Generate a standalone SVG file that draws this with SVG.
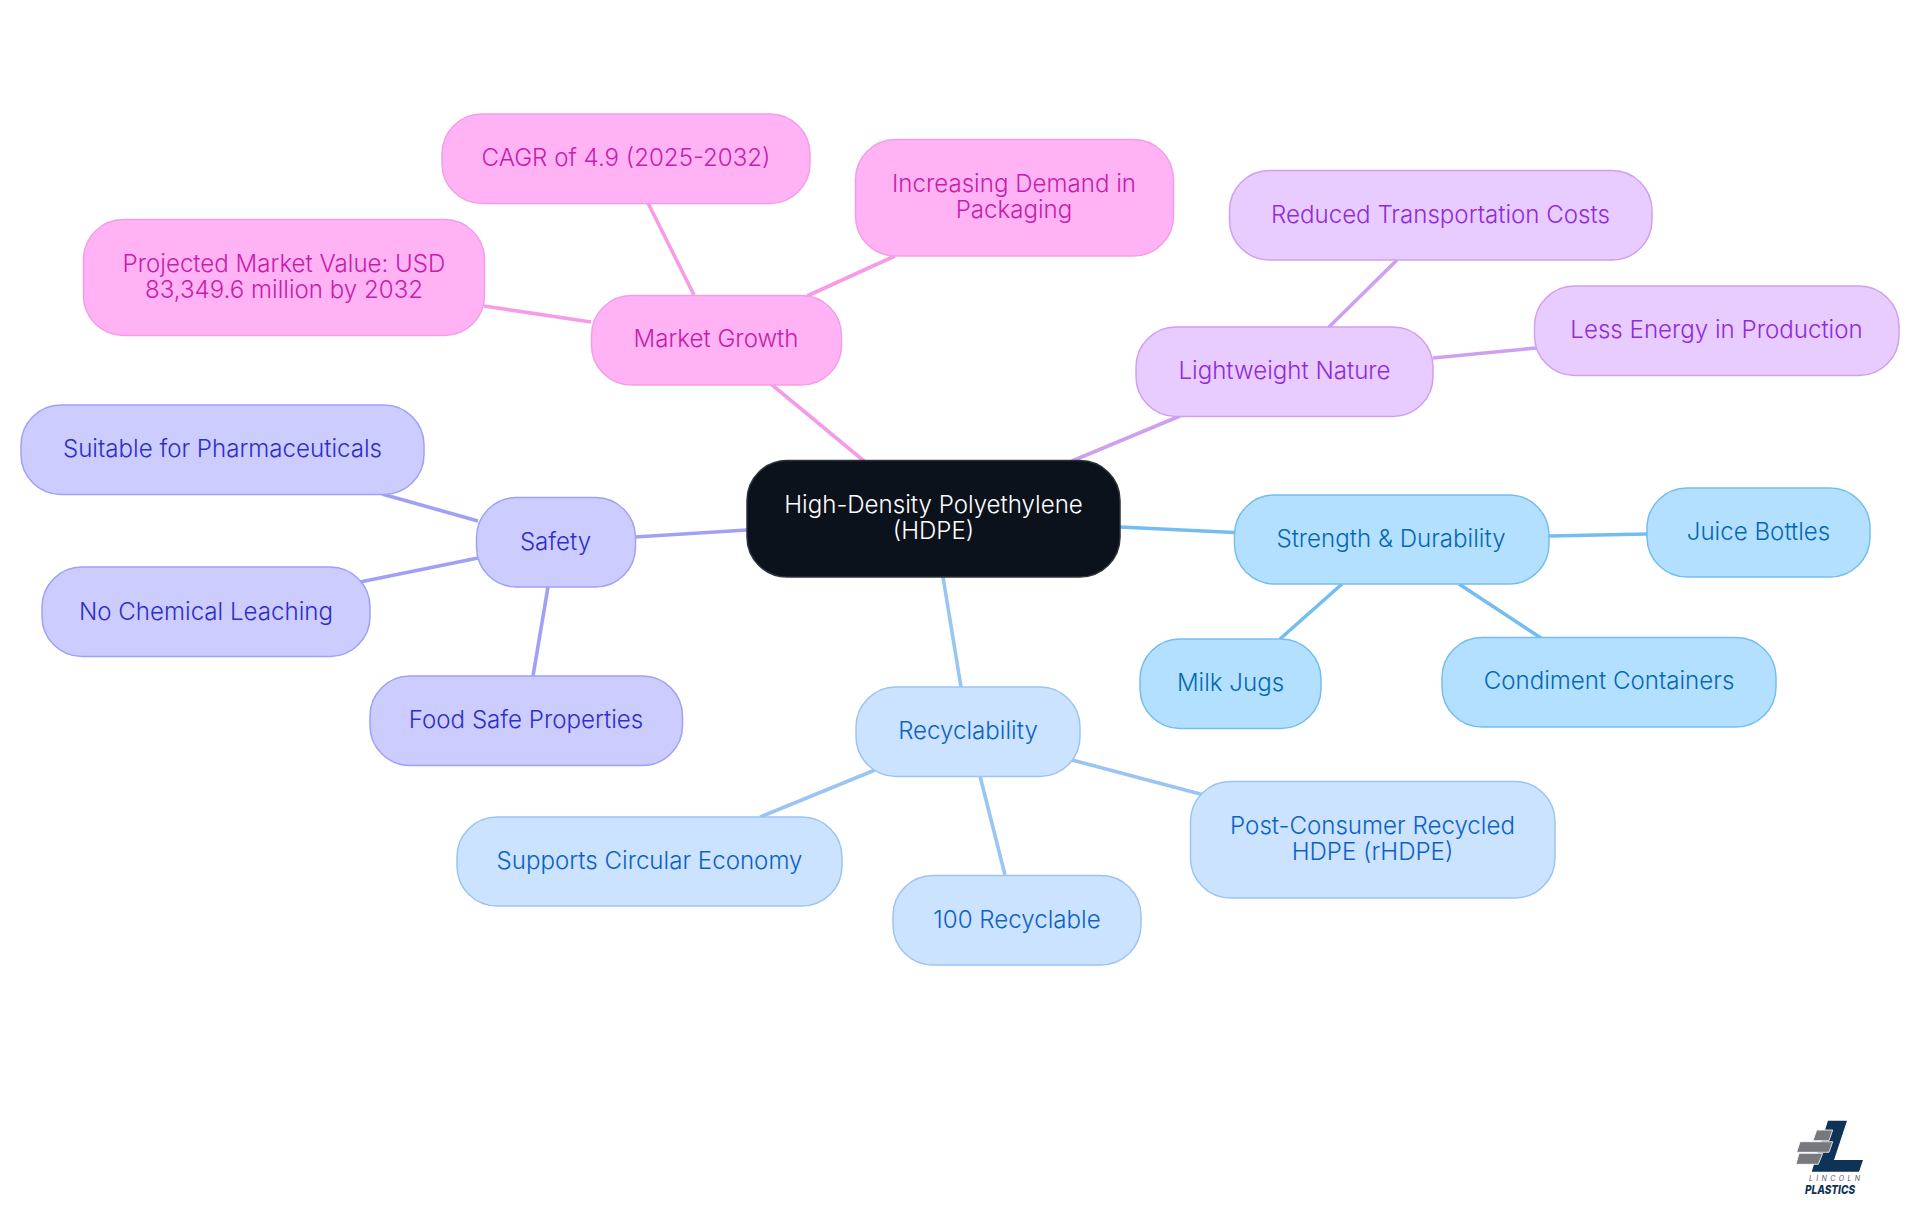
<svg xmlns="http://www.w3.org/2000/svg" width="1920" height="1215" viewBox="0 0 1920 1215">
<style>
text{font-family:"Inter","Noto Sans",sans-serif;font-size:24.1px;font-weight:350;text-anchor:middle;dominant-baseline:central}
rect{stroke-width:1.5}
#connectors line{stroke-width:3.6;fill:none}
.root rect{fill:#0b121b;stroke:#2c323a}.root text{fill:#fff}
.pink rect{fill:#ffb3f5;stroke:#f59ce8}.pink text{fill:#c91ca8}
.purple rect{fill:#e8ccff;stroke:#cf9ff0}.purple text{fill:#8f2bd9}
.sky rect{fill:#b3e0ff;stroke:#75bdf0}.sky text{fill:#0668b3}
.pale rect{fill:#cce3ff;stroke:#9ac5f2}.pale text{fill:#0b62c4}
.indigo rect{fill:#ccccff;stroke:#a0a0f5}.indigo text{fill:#2e2ec9}
.lp{stroke:#f59ce8}.lv{stroke:#cf9ff0}.ls{stroke:#75bdf0}.la{stroke:#9ac5f2}.li{stroke:#a0a0f5}
#logo text{font-style:italic}
</style>
<g id="connectors">
<line class="lp" x1="771" y1="384" x2="864" y2="461"/>
<line class="lp" x1="694" y1="295" x2="648" y2="203"/>
<line class="lp" x1="807" y1="296" x2="895" y2="256"/>
<line class="lp" x1="591" y1="322" x2="484" y2="306"/>
<line class="lv" x1="1180" y1="416" x2="1072" y2="461"/>
<line class="lv" x1="1329" y1="327" x2="1397" y2="260"/>
<line class="lv" x1="1433" y1="358" x2="1536" y2="348"/>
<line class="ls" x1="1120" y1="527" x2="1234" y2="532.500"/>
<line class="ls" x1="1549" y1="536" x2="1647" y2="534"/>
<line class="ls" x1="1342" y1="584" x2="1280" y2="639"/>
<line class="ls" x1="1459" y1="584" x2="1541" y2="638"/>
<line class="la" x1="943" y1="577" x2="961" y2="687"/>
<line class="la" x1="875" y1="770" x2="760" y2="817"/>
<line class="la" x1="980" y1="776" x2="1005" y2="875"/>
<line class="la" x1="1072" y1="760" x2="1204" y2="795"/>
<line class="li" x1="747" y1="530" x2="635" y2="537"/>
<line class="li" x1="478" y1="521" x2="382" y2="494"/>
<line class="li" x1="478" y1="558" x2="360" y2="582"/>
<line class="li" x1="548" y1="587" x2="533" y2="676"/>
</g>
<g id="n-root" class="root"><rect x="747" y="460.500" width="373" height="116.500" rx="40"/><text x="933.5" y="504">High-Density Polyethylene</text><text x="933.5" y="530">(HDPE)</text></g>
<g id="n-market" class="pink"><rect x="591.500" y="295.500" width="250" height="89.500" rx="40"/><text x="716" y="338.500">Market Growth</text></g>
<g id="n-cagr" class="pink"><rect x="442" y="114" width="368" height="89.500" rx="40"/><text x="626" y="157.500">CAGR of 4.9 (2025-2032)</text></g>
<g id="n-projected" class="pink"><rect x="83.500" y="219.500" width="401" height="116" rx="40"/><text x="284" y="263.500">Projected Market Value: USD</text><text x="284" y="289.500">83,349.6 million by 2032</text></g>
<g id="n-demand" class="pink"><rect x="855.500" y="139.500" width="318" height="116.500" rx="40"/><text x="1014" y="183.500">Increasing Demand in</text><text x="1014" y="209.500">Packaging</text></g>
<g id="n-light" class="purple"><rect x="1136" y="327" width="297" height="89.500" rx="40"/><text x="1284.500" y="370">Lightweight Nature</text></g>
<g id="n-reduced" class="purple"><rect x="1229.500" y="170.500" width="422.500" height="89.500" rx="40"/><text x="1440.500" y="214">Reduced Transportation Costs</text></g>
<g id="n-energy" class="purple"><rect x="1534.500" y="286" width="364.500" height="89.500" rx="40"/><text x="1716.500" y="329.500">Less Energy in Production</text></g>
<g id="n-strength" class="sky"><rect x="1234.500" y="495" width="314.500" height="89" rx="40"/><text x="1391" y="538">Strength &amp; Durability</text></g>
<g id="n-juice" class="sky"><rect x="1647" y="488" width="223" height="89" rx="40"/><text x="1758.500" y="531">Juice Bottles</text></g>
<g id="n-milk" class="sky"><rect x="1140" y="639" width="181" height="89.500" rx="40"/><text x="1230.500" y="682.500">Milk Jugs</text></g>
<g id="n-condiment" class="sky"><rect x="1442" y="637.500" width="334" height="89.500" rx="40"/><text x="1609" y="680.500">Condiment Containers</text></g>
<g id="n-recycle" class="pale"><rect x="856" y="687" width="224" height="89.500" rx="40"/><text x="968" y="730">Recyclability</text></g>
<g id="n-circular" class="pale"><rect x="457" y="817" width="385" height="89" rx="40"/><text x="649.500" y="860">Supports Circular Economy</text></g>
<g id="n-100" class="pale"><rect x="893" y="875.500" width="248" height="89.500" rx="40"/><text x="1017" y="919">100 Recyclable</text></g>
<g id="n-rhdpe" class="pale"><rect x="1190.500" y="781.500" width="364.500" height="116.500" rx="40"/><text x="1372.500" y="825">Post-Consumer Recycled</text><text x="1372.500" y="851">HDPE (rHDPE)</text></g>
<g id="n-safety" class="indigo"><rect x="476.500" y="497.500" width="159" height="89.500" rx="40"/><text x="555.500" y="541">Safety</text></g>
<g id="n-pharma" class="indigo"><rect x="21" y="405" width="403" height="89.500" rx="40"/><text x="222.500" y="448.500">Suitable for Pharmaceuticals</text></g>
<g id="n-leach" class="indigo"><rect x="42" y="567" width="328" height="89.500" rx="40"/><text x="206" y="611">No Chemical Leaching</text></g>
<g id="n-food" class="indigo"><rect x="370" y="676" width="312.500" height="89.500" rx="40"/><text x="526" y="719">Food Safe Properties</text></g>
<g id="logo">
<polygon points="1828,1120.700 1847,1120.700 1834,1160 1863,1160 1859,1171.700 1811.700,1171.700" fill="#0f3357"/>
<polygon points="1816.700,1130 1832.700,1130 1829,1140.700 1813,1140.700" fill="#77797c" stroke="#fff" stroke-width=".8"/>
<polygon points="1800,1141.700 1832.700,1141.700 1829,1152.300 1796.700,1152.300" fill="#77797c" stroke="#fff" stroke-width=".8"/>
<polygon points="1799,1153.300 1822.700,1153.300 1818.300,1164.300 1796,1164.300" fill="#77797c" stroke="#fff" stroke-width=".8"/>
<text x="1834.500" y="1178" textLength="51" lengthAdjust="spacing" style="font-size:7px;font-weight:400;fill:#555a60">LINCOLN</text>
<text x="1830" y="1189" textLength="50" lengthAdjust="spacingAndGlyphs" style="font-size:12px;font-weight:800;fill:#0f3357">PLASTICS</text>
</g>
</svg>
